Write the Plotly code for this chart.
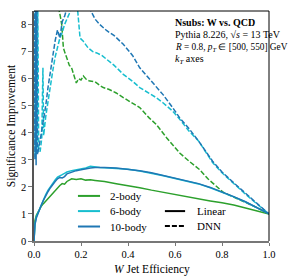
import plotly.graph_objects as go

# ---------------- data ----------------
x_lin = [0, 0.004, 0.01, 0.02, 0.03, 0.04, 0.05, 0.06, 0.07, 0.08, 0.09, 0.1, 0.11, 0.12, 0.13,
         0.14, 0.16, 0.18, 0.2, 0.22, 0.24, 0.26, 0.28, 0.3, 0.35, 0.4, 0.45, 0.5, 0.55, 0.6,
         0.65, 0.7, 0.75, 0.8, 0.85, 0.9, 0.95, 1.0]
lin_2body = [0, 0.75, 0.95, 1.12, 1.27, 1.38, 1.48, 1.57, 1.65, 1.75, 1.85, 1.95, 2.05, 2.12, 2.1,
             2.2, 2.3, 2.27, 2.3, 2.25, 2.26, 2.24, 2.23, 2.2, 2.12, 2.05, 1.97, 1.88, 1.8, 1.7,
             1.62, 1.54, 1.48, 1.41, 1.33, 1.22, 1.1, 1.0]
lin_6body = [0, 0.62, 0.9, 1.12, 1.35, 1.55, 1.72, 1.88, 2.02, 2.15, 2.26, 2.36, 2.42, 2.45, 2.5,
             2.55, 2.6, 2.63, 2.66, 2.7, 2.76, 2.73, 2.72, 2.71, 2.69, 2.65, 2.59, 2.51, 2.41, 2.31,
             2.21, 2.11, 1.97, 1.81, 1.63, 1.44, 1.22, 1.0]
lin_10body = [0, 0.6, 0.85, 1.1, 1.3, 1.5, 1.68, 1.83, 1.97, 2.1, 2.2, 2.3, 2.35, 2.33, 2.38,
              2.48, 2.55, 2.6, 2.63, 2.67, 2.7, 2.72, 2.73, 2.72, 2.7, 2.66, 2.6, 2.52, 2.42, 2.32,
              2.22, 2.12, 1.98, 1.82, 1.64, 1.45, 1.23, 1.0]

x_dnn_2body = [0.001, 0.05, 0.09, 0.105, 0.112, 0.118, 0.125, 0.13, 0.14, 0.15, 0.16, 0.17, 0.18,
               0.19, 0.2, 0.21, 0.224, 0.238, 0.26, 0.28, 0.295, 0.32, 0.35, 0.38, 0.42, 0.45,
               0.49, 0.52, 0.565, 0.62, 0.66, 0.706, 0.74, 0.777, 0.805, 0.85, 0.9, 0.95, 1.0]
dnn_2body = [14, 11, 9.3, 8.7, 8.3, 8.0, 7.14, 7.0, 6.77, 6.5, 6.4, 6.1, 5.84,
             6.0, 5.95, 6.1, 5.96, 5.91, 5.88, 5.75, 5.67, 5.6, 5.47, 5.3, 5.1, 4.93,
             4.55, 4.31, 3.81, 3.25, 2.95, 2.63, 2.3, 2.01, 1.8, 1.62, 1.44, 1.23, 1.0]

x_dnn_6body = [0.002, 0.005, 0.008, 0.012, 0.016, 0.02, 0.026, 0.033, 0.038, 0.041, 0.05, 0.06,
               0.07, 0.08, 0.09, 0.1, 0.11, 0.12, 0.13, 0.14, 0.15, 0.16, 0.175, 0.185, 0.196,
               0.21, 0.23, 0.25, 0.267, 0.29, 0.31, 0.34, 0.38, 0.42, 0.45, 0.49, 0.52, 0.55,
               0.59, 0.62, 0.66, 0.7, 0.76, 0.8, 0.85, 0.9, 0.95, 1.0]
dnn_6body = [11, 3.1, 10.5, 3.3, 9, 3.4, 3.3, 3.8, 6.4, 3.9, 4.6, 5.2,
             5.8, 6.3, 6.8, 7.2, 7.5, 7.7, 8.0, 8.2, 8.4, 8.7, 9.0, 8.6, 7.5,
             7.38, 7.14, 7.0, 6.95, 6.85, 6.72, 6.5, 6.16, 5.9, 5.67, 5.45, 5.3, 5.1,
             4.8, 4.5, 4.06, 3.7, 2.9, 2.52, 2.12, 1.73, 1.36, 1.0]

x_dnn_10body = [0.001, 0.004, 0.006, 0.009, 0.011, 0.015, 0.02, 0.03, 0.04, 0.05, 0.06, 0.07,
                0.08, 0.09, 0.1, 0.11, 0.12, 0.13, 0.14, 0.16, 0.2, 0.23, 0.245, 0.26, 0.28,
                0.31, 0.34, 0.38, 0.42, 0.45, 0.48, 0.52, 0.55, 0.59, 0.62, 0.66, 0.7, 0.76,
                0.8, 0.85, 0.9, 0.95, 1.0]
dnn_10body = [12, 3.0, 12, 2.8, 12, 3.2, 3.4, 3.9, 4.4, 5.0, 5.7, 6.3,
              6.9, 7.4, 7.8, 7.5, 8.1, 8.3, 8.6, 9.2, 9.5, 8.8, 8.45, 8.2, 8.0,
              7.77, 7.6, 7.27, 6.85, 6.4, 6.1, 5.67, 5.4, 4.93, 4.55, 4.15, 3.7, 2.95,
              2.55, 2.15, 1.75, 1.38, 1.0]

names = ["2-body", "6-body", "10-body"]
colors = ["#2ca02c", "#17becf", "#1f77b4"]
style_names = ["Linear", "DNN"]
x_ticks = [0.0, 0.2, 0.4, 0.6, 0.8, 1.0]
x_ticktext = ["0.0", "0.2", "0.4", "0.6", "0.8", "1.0"]
y_ticks = [0, 1, 2, 3, 4, 5, 6, 7, 8]

SERIF = "Liberation Serif"
DASH = "5px,2px"
fig = go.Figure()

dnn = [(x_dnn_2body, dnn_2body), (x_dnn_6body, dnn_6body), (x_dnn_10body, dnn_10body)]
lin = [lin_2body, lin_6body, lin_10body]

for (xd, yd), c, n in zip(dnn, colors, names):
    fig.add_trace(go.Scatter(x=xd, y=yd, mode="lines", name=n + " DNN", showlegend=False,
                             line=dict(color=c, width=1.5, dash=DASH)))
for y, c, n in zip(lin, colors, names):
    fig.add_trace(go.Scatter(x=x_lin, y=y, mode="lines", name=n + " Linear", showlegend=False,
                             line=dict(color=c, width=1.5)))

shapes = [dict(type="line", xref="paper", yref="paper", x0=0, x1=1, y0=1, y1=1,
               line=dict(color="black", width=1)),
          dict(type="line", xref="paper", yref="paper", x0=1, x1=1, y0=0, y1=1,
               line=dict(color="black", width=1))]
annotations = []

# ----- info text -----
ann_lines = ["<b>Nsubs: W vs. QCD</b>",
             "Pythia 8.226, √<i>s</i> = 13 TeV",
             "<i>R</i> = 0.8, <i>p<sub>T</sub></i> ∈ [500, 550] GeV",
             "<i>k<sub>T</sub></i> axes"]
ann_y = [0.952, 0.896, 0.843, 0.791]
ann_size = [10, 10, 9.3, 10]
for t, yy, s in zip(ann_lines, ann_y, ann_size):
    annotations.append(dict(text=t, x=0.59, y=yy, xref="paper", yref="paper", xanchor="left",
                            yanchor="middle", showarrow=False,
                            font=dict(family=SERIF, size=s, color="black")))

# ----- legend (colours) -----
leg1_y = [0.196, 0.13, 0.063]
for n, c, yy in zip(names, colors, leg1_y):
    shapes.append(dict(type="line", xref="paper", yref="paper", x0=0.187, x1=0.281, y0=yy, y1=yy,
                       line=dict(color=c, width=2)))
    annotations.append(dict(text=n, x=0.313, y=yy, xref="paper", yref="paper", xanchor="left",
                            yanchor="middle", showarrow=False,
                            font=dict(family=SERIF, size=11, color="black")))
# ----- legend (styles) -----
leg2_y = [0.13, 0.065]
for n, d, yy in zip(style_names, ["solid", DASH], leg2_y):
    shapes.append(dict(type="line", xref="paper", yref="paper", x0=0.557, x1=0.643, y0=yy, y1=yy,
                       line=dict(color="black", width=2, dash=d)))
    annotations.append(dict(text=n, x=0.685, y=yy, xref="paper", yref="paper", xanchor="left",
                            yanchor="middle", showarrow=False,
                            font=dict(family=SERIF, size=11, color="black")))

# ----- axis titles -----
annotations.append(dict(text="<i>W</i> Jet Efficiency", x=0.5, y=-0.122, xref="paper", yref="paper",
                        xanchor="center", yanchor="middle", showarrow=False,
                        font=dict(family=SERIF, size=11.5, color="black")))
annotations.append(dict(text="Significance Improvement", x=-0.097, y=0.5, xref="paper", yref="paper",
                        xanchor="center", yanchor="middle", showarrow=False, textangle=-90,
                        font=dict(family=SERIF, size=11.5, color="black")))

fig.update_layout(
    width=301, height=279,
    margin=dict(l=34, r=32, t=11, b=38),
    plot_bgcolor="white", paper_bgcolor="white",
    font=dict(family=SERIF, size=11, color="black"),
    annotations=annotations,
    shapes=shapes,
    showlegend=False,
)
fig.update_xaxes(range=[0, 1], tickvals=x_ticks, ticktext=x_ticktext, showgrid=False,
                 zeroline=False, showline=True, linecolor="#777777", linewidth=1.5,
                 ticks="outside", ticklen=3, tickcolor="#777777", automargin=False,
                 tickfont=dict(family=SERIF, size=10.5))
fig.update_yaxes(range=[0, 8.5], tickvals=y_ticks, showgrid=False, zeroline=False,
                 showline=True, linecolor="#555555", linewidth=1.5,
                 ticks="outside", ticklen=4, tickcolor="#777777", automargin=False,
                 tickfont=dict(family=SERIF, size=10.5))

fig.write_html("out.html", config={"displayModeBar": False},
               post_script="document.body.style.margin='0px';document.body.style.overflow='hidden';")
